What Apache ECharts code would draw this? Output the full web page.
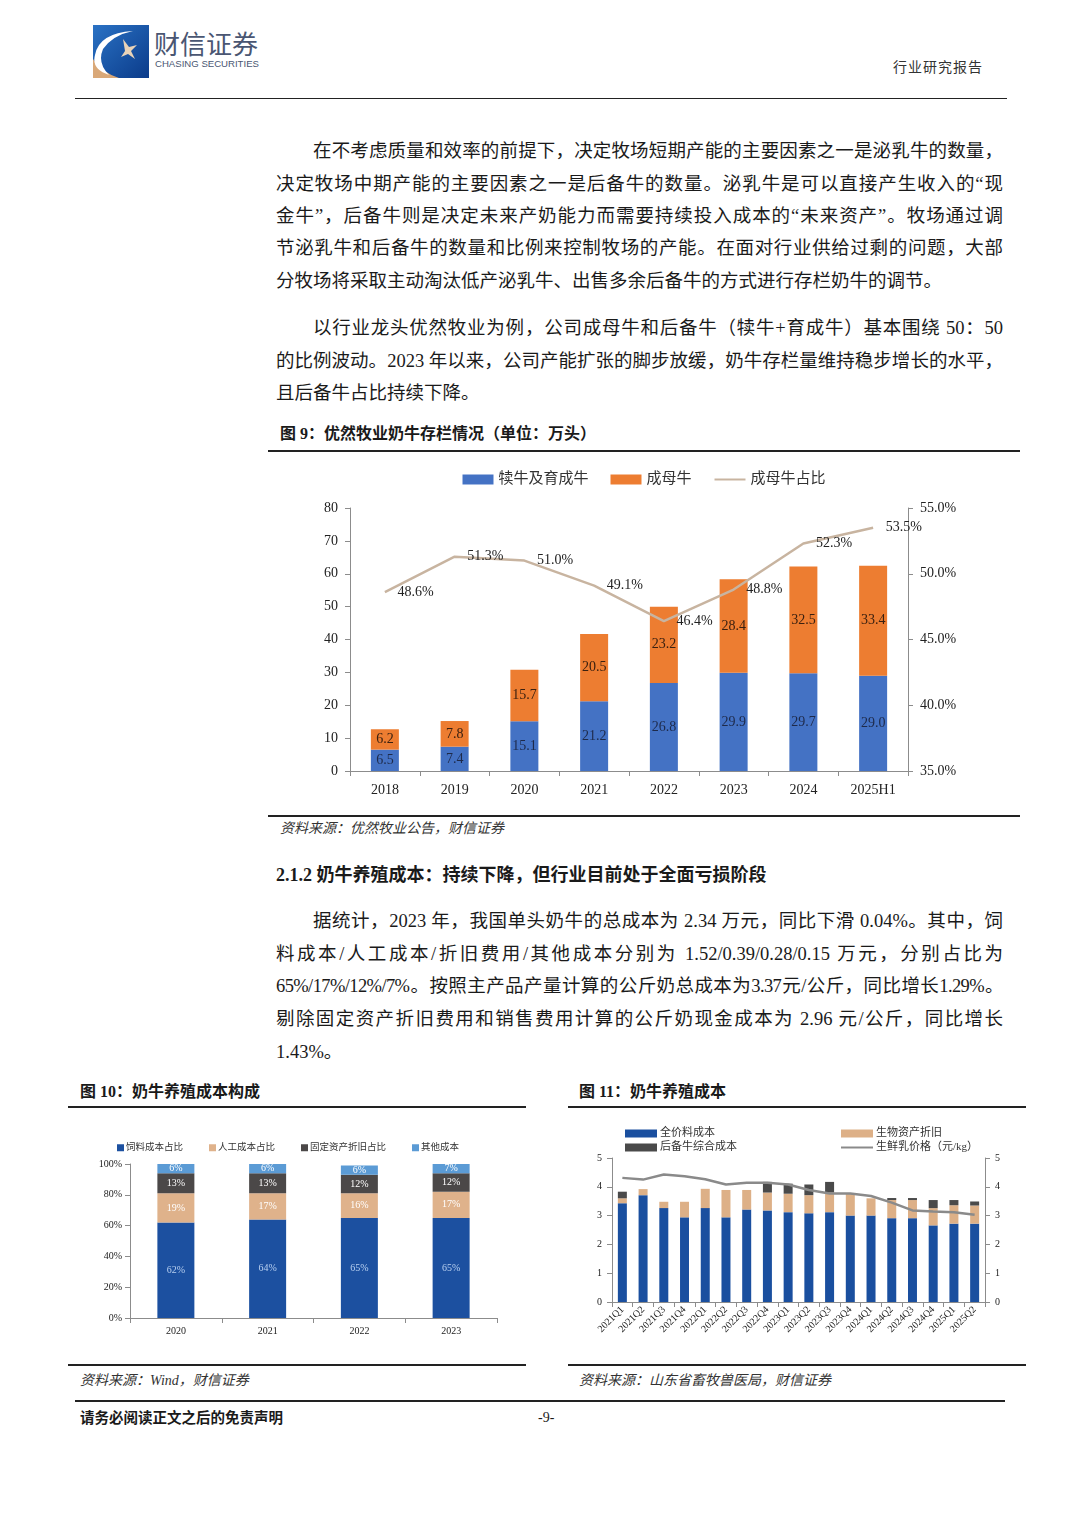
<!DOCTYPE html>
<html><head><meta charset="utf-8">
<script src="https://cdn.jsdelivr.net/npm/echarts@6/dist/echarts.min.js"></script>
<style>
html,body{margin:0;padding:0;background:#fff;}
#page{position:relative;width:1080px;height:1527px;overflow:hidden;font-family:'Liberation Serif','Noto Sans CJK SC',serif;color:#1a1a1a;background:#fff;}
.ln{position:absolute;left:276px;width:727px;height:26px;line-height:26px;font-size:18.5px;text-align:justify;text-align-last:justify;}
.ln.ind{left:313px;width:690px;}
.ln.last{text-align-last:left;}
.ln.tight{letter-spacing:-0.6px;}
.hr{position:absolute;background:#222;}
.t{position:absolute;white-space:nowrap;}
.cap{font-weight:bold;font-size:16px;}
.src{font-style:italic;font-size:14px;color:#333;}
.chart{position:absolute;}
</style></head>
<body><div id="page">
<svg style="position:absolute;left:93px;top:25px" width="56" height="53" viewBox="0 0 56 53">
<defs><linearGradient id="g" x1="0" y1="0" x2="1" y2="1"><stop offset="0" stop-color="#2a72c4"/><stop offset="1" stop-color="#0b3b8a"/></linearGradient></defs>
<rect x="0" y="0" width="56" height="53" fill="url(#g)"/>
<path d="M0 53 L0 34 Q8 47 26 53 Z" fill="#d9a878"/>
<path d="M2 30 Q6 8 40 6 Q20 10 10 24 Q4 38 16 50 Q-2 44 2 30 Z" fill="#ffffff"/>
<path d="M30 14 L36 22 L44 20 L38 26 L42 34 L35 29 L28 32 L32 26 Z" fill="#e9d3b8"/>
</svg>
<div class="t" style="left:154px;top:26px;font-family:'Noto Sans CJK SC';font-size:26px;color:#4a5672;letter-spacing:0px;line-height:34px;">财信证券</div>
<div class="t" style="left:155px;top:58px;font-family:'Liberation Sans','Noto Sans';font-size:9.6px;color:#4a5672;line-height:12px;">CHASING SECURITIES</div>
<div class="t" style="left:893px;top:59px;font-size:14px;color:#333;line-height:18px;letter-spacing:1px;">行业研究报告</div>
<div class="hr" style="left:75px;top:98px;width:932px;height:1px;"></div>

<div class="ln ind" style="top:138px">在不考虑质量和效率的前提下，决定牧场短期产能的主要因素之一是泌乳牛的数量，</div>
<div class="ln" style="top:171px">决定牧场中期产能的主要因素之一是后备牛的数量。泌乳牛是可以直接产生收入的“现</div>
<div class="ln" style="top:203px">金牛”，后备牛则是决定未来产奶能力而需要持续投入成本的“未来资产”。牧场通过调</div>
<div class="ln" style="top:235px">节泌乳牛和后备牛的数量和比例来控制牧场的产能。在面对行业供给过剩的问题，大部</div>
<div class="ln last" style="top:268px">分牧场将采取主动淘汰低产泌乳牛、出售多余后备牛的方式进行存栏奶牛的调节。</div>

<div class="ln ind" style="top:315px">以行业龙头优然牧业为例，公司成母牛和后备牛（犊牛+育成牛）基本围绕 50：50</div>
<div class="ln" style="top:348px">的比例波动。2023 年以来，公司产能扩张的脚步放缓，奶牛存栏量维持稳步增长的水平，</div>
<div class="ln last" style="top:380px">且后备牛占比持续下降。</div>

<div class="t cap" style="left:280px;top:423px;line-height:22px;">图 9：优然牧业奶牛存栏情况（单位：万头）</div>
<div class="hr" style="left:268px;top:450px;width:752px;height:2px;"></div>
<div id="c9" class="chart" style="left:268px;top:455px;width:752px;height:355px;"></div>
<div class="hr" style="left:268px;top:815px;width:752px;height:2px;"></div>
<div class="t src" style="left:280px;top:820px;line-height:18px;">资料来源：优然牧业公告，财信证券</div>

<div class="t" style="left:276px;top:863px;font-weight:bold;font-size:18px;line-height:24px;">2.1.2 奶牛养殖成本：持续下降，但行业目前处于全面亏损阶段</div>

<div class="ln ind" style="top:908px">据统计，2023 年，我国单头奶牛的总成本为 2.34 万元，同比下滑 0.04%。其中，饲</div>
<div class="ln" style="top:941px">料成本/人工成本/折旧费用/其他成本分别为 1.52/0.39/0.28/0.15 万元，分别占比为</div>
<div class="ln tight" style="top:973px">65%/17%/12%/7%。按照主产品产量计算的公斤奶总成本为3.37元/公斤，同比增长1.29%。</div>
<div class="ln" style="top:1006px">剔除固定资产折旧费用和销售费用计算的公斤奶现金成本为 2.96 元/公斤，同比增长</div>
<div class="ln last" style="top:1039px">1.43%。</div>

<div class="t cap" style="left:80px;top:1081px;line-height:22px;">图 10：奶牛养殖成本构成</div>
<div class="hr" style="left:68px;top:1106px;width:458px;height:2px;"></div>
<div class="t cap" style="left:579px;top:1081px;line-height:22px;">图 11：奶牛养殖成本</div>
<div class="hr" style="left:568px;top:1106px;width:458px;height:2px;"></div>
<div id="c10" class="chart" style="left:68px;top:1112px;width:458px;height:248px;"></div>
<div id="c11" class="chart" style="left:568px;top:1112px;width:458px;height:250px;"></div>
<div class="hr" style="left:68px;top:1364px;width:458px;height:2px;"></div>
<div class="hr" style="left:568px;top:1364px;width:458px;height:2px;"></div>
<div class="t src" style="left:80px;top:1372px;line-height:18px;">资料来源：Wind，财信证券</div>
<div class="t src" style="left:579px;top:1372px;line-height:18px;">资料来源：山东省畜牧兽医局，财信证券</div>
<div class="hr" style="left:75px;top:1400px;width:930px;height:2px;"></div>
<div class="t" style="left:80px;top:1409px;font-weight:bold;font-size:14.5px;line-height:18px;">请务必阅读正文之后的免责声明</div>
<div class="t" style="left:538px;top:1409px;font-size:14px;line-height:18px;">-9-</div>
</div>
<script>
// ---- Figure 9 data ----
const years9 = ['2018','2019','2020','2021','2022','2023','2024','2025H1'];
const calves9 = [6.5,7.4,15.1,21.2,26.8,29.9,29.7,29.0];
const cows9 = [6.2,7.8,15.7,20.5,23.2,28.4,32.5,33.4];
const cowShare9 = [48.6,51.3,51.0,49.1,46.4,48.8,52.3,53.5];
// ---- Figure 10 data ----
const years10 = ['2020','2021','2022','2023'];
const feed10 = [62,64,65,65];
const labor10 = [19,17,16,17];
const depr10 = [13,13,12,12];
const other10 = [6,6,6,7];
// ---- Figure 11 data ----
const quarters11 = ['2021Q1','2021Q2','2021Q3','2021Q4','2022Q1','2022Q2','2022Q3','2022Q4','2023Q1','2023Q2','2023Q3','2023Q4','2024Q1','2024Q2','2024Q3','2024Q4','2025Q1','2025Q2'];
const feed11 = [3.43,3.71,3.26,2.94,3.26,2.94,3.21,3.18,3.12,3.08,3.12,3.00,3.00,2.91,2.91,2.66,2.72,2.72];
const bio11 = [0.17,0.21,0.22,0.54,0.67,0.95,0.68,0.62,0.64,0.63,0.68,0.75,0.60,0.63,0.63,0.60,0.64,0.63];
const heifer11 = [0.23,0,0,0,0,0,0,0.37,0.35,0.37,0.37,0,0,0.07,0.07,0.28,0.18,0.14];
const milk11 = [4.31,4.25,4.43,4.37,4.26,4.08,4.14,4.14,4.08,3.89,3.77,3.77,3.68,3.45,3.18,3.14,3.12,3.03];

const FF = "'Liberation Serif','Noto Sans CJK SC',serif";
const axisGray = '#8c8c8c';
const clear = 'rgba(0,0,0,0)';

// Chart 9
const c9 = echarts.init(document.getElementById('c9'));
c9.setOption({
  animation:false,
  textStyle:{fontFamily:FF},
  legend:{top:12,left:'center',itemWidth:31,itemHeight:10,itemGap:22,textStyle:{fontSize:15,color:'#333',fontFamily:FF},
    data:[{name:'犊牛及育成牛',icon:'rect'},{name:'成母牛',icon:'rect'},{name:'成母牛占比'}]},
  grid:{left:82,right:112,top:53,bottom:39},
  xAxis:{type:'category',data:years9,axisLine:{lineStyle:{color:axisGray}},axisTick:{show:true,lineStyle:{color:axisGray}},
    axisLabel:{fontSize:14,color:'#222',margin:12,fontFamily:FF}},
  yAxis:[
    {type:'value',min:0,max:80,interval:10,splitLine:{show:false},axisLine:{show:true,lineStyle:{color:axisGray}},axisTick:{show:true,lineStyle:{color:axisGray}},
      axisLabel:{fontSize:14,color:'#222',margin:12,fontFamily:FF}},
    {type:'value',min:35,max:55,interval:5,splitLine:{show:false},axisLine:{show:true,lineStyle:{color:axisGray}},axisTick:{show:true,lineStyle:{color:axisGray}},
      axisLabel:{fontSize:14,color:'#222',margin:12,fontFamily:FF,formatter:v=>v.toFixed(1)+'%'}}
  ],
  series:[
    {name:'犊牛及育成牛',type:'bar',stack:'a',data:calves9,barWidth:28,itemStyle:{color:'#4472c4'},
      label:{show:true,position:'inside',fontSize:14,color:'#1e2a4a',fontFamily:FF,formatter:p=>p.value.toFixed(1)}},
    {name:'成母牛',type:'bar',stack:'a',data:cows9,barWidth:28,itemStyle:{color:'#ed7d31'},
      label:{show:true,position:'inside',fontSize:14,color:'#3a2010',fontFamily:FF,formatter:p=>p.value.toFixed(1)}},
    {name:'成母牛占比',type:'line',yAxisIndex:1,data:cowShare9,symbol:'circle',symbolSize:1,showSymbol:true,
      lineStyle:{color:'#c8b4a0',width:2.5},itemStyle:{color:clear,borderWidth:0},
      label:{show:true,position:'right',distance:12,fontSize:14,color:'#222',fontFamily:FF,formatter:p=>p.value.toFixed(1)+'%'}}
  ]
});

// Chart 10
const c10 = echarts.init(document.getElementById('c10'));
const lab10 = (col)=>({show:true,position:'inside',fontSize:10,color:col,fontFamily:FF,formatter:'{c}%'});
c10.setOption({
  animation:false,
  legend:{top:26,left:44,itemWidth:7,itemHeight:7,itemGap:26,textStyle:{fontSize:9.5,color:'#333',fontFamily:FF,padding:[0,0,0,-3]},
    data:[{name:'饲料成本占比',icon:'rect'},{name:'人工成本占比',icon:'rect'},{name:'固定资产折旧占比',icon:'rect'},{name:'其他成本',icon:'rect'}]},
  grid:{left:62,right:29,top:52,bottom:42},
  xAxis:{type:'category',data:years10,axisLine:{lineStyle:{color:axisGray}},axisTick:{show:true,lineStyle:{color:axisGray}},
    axisLabel:{fontSize:10,color:'#222',margin:8,fontFamily:FF}},
  yAxis:{type:'value',min:0,max:100,interval:20,splitLine:{show:false},axisLine:{show:true,lineStyle:{color:axisGray}},axisTick:{show:true,lineStyle:{color:axisGray}},
    axisLabel:{fontSize:10,color:'#222',margin:8,fontFamily:FF,formatter:'{value}%'}},
  series:[
    {name:'饲料成本占比',type:'bar',stack:'s',barWidth:37,data:feed10,itemStyle:{color:'#1c50a0'},label:lab10('#b8d0f0')},
    {name:'人工成本占比',type:'bar',stack:'s',barWidth:37,data:labor10,itemStyle:{color:'#dfb28b'},label:lab10('#ffffff')},
    {name:'固定资产折旧占比',type:'bar',stack:'s',barWidth:37,data:depr10,itemStyle:{color:'#4b4848'},label:lab10('#ffffff')},
    {name:'其他成本',type:'bar',stack:'s',barWidth:37,data:other10,itemStyle:{color:'#5b9bd5'},label:lab10('#ffffff')}
  ]
});

// Chart 11
const c11 = echarts.init(document.getElementById('c11'));
c11.setOption({
  animation:false,
  legend:[
    {orient:'vertical',top:11,left:52,itemWidth:32,itemHeight:8,itemGap:3,textStyle:{fontSize:11,color:'#333',fontFamily:FF,padding:[0,0,0,-2]},
      data:[{name:'全价料成本',icon:'rect'},{name:'后备牛综合成本',icon:'rect'}]},
    {orient:'vertical',top:11,left:267,itemWidth:32,itemHeight:8,itemGap:3,textStyle:{fontSize:11,color:'#333',fontFamily:FF,padding:[0,0,0,-2]},
      data:[{name:'生物资产折旧',icon:'rect'},{name:'生鲜乳价格（元/kg）'}]}
  ],
  grid:{left:44,right:41,top:46,bottom:60},
  xAxis:{type:'category',data:quarters11,axisLine:{lineStyle:{color:axisGray}},axisTick:{show:true,lineStyle:{color:axisGray}},
    axisLabel:{fontSize:10,color:'#222',margin:6,rotate:45,interval:0,fontFamily:FF}},
  yAxis:[
    {type:'value',min:0,max:5,interval:1,splitLine:{show:false},axisLine:{show:true,lineStyle:{color:axisGray}},axisTick:{show:true,lineStyle:{color:axisGray}},
      axisLabel:{fontSize:10,color:'#222',margin:10,fontFamily:FF}},
    {type:'value',min:0,max:5,interval:1,splitLine:{show:false},axisLine:{show:true,lineStyle:{color:axisGray}},axisTick:{show:true,lineStyle:{color:axisGray}},
      axisLabel:{fontSize:10,color:'#222',margin:10,fontFamily:FF}}
  ],
  series:[
    {name:'全价料成本',type:'bar',stack:'c',barWidth:9,data:feed11,itemStyle:{color:'#1a4f9f'}},
    {name:'生物资产折旧',type:'bar',stack:'c',barWidth:9,data:bio11,itemStyle:{color:'#ddb087'}},
    {name:'后备牛综合成本',type:'bar',stack:'c',barWidth:9,data:heifer11,itemStyle:{color:'#4a4a4a'}},
    {name:'生鲜乳价格（元/kg）',type:'line',yAxisIndex:1,data:milk11,symbol:'circle',symbolSize:1,showSymbol:false,
      lineStyle:{color:'#8a8a8a',width:2.5},itemStyle:{color:clear,borderWidth:0}}
  ]
});
</script>
</body></html>
